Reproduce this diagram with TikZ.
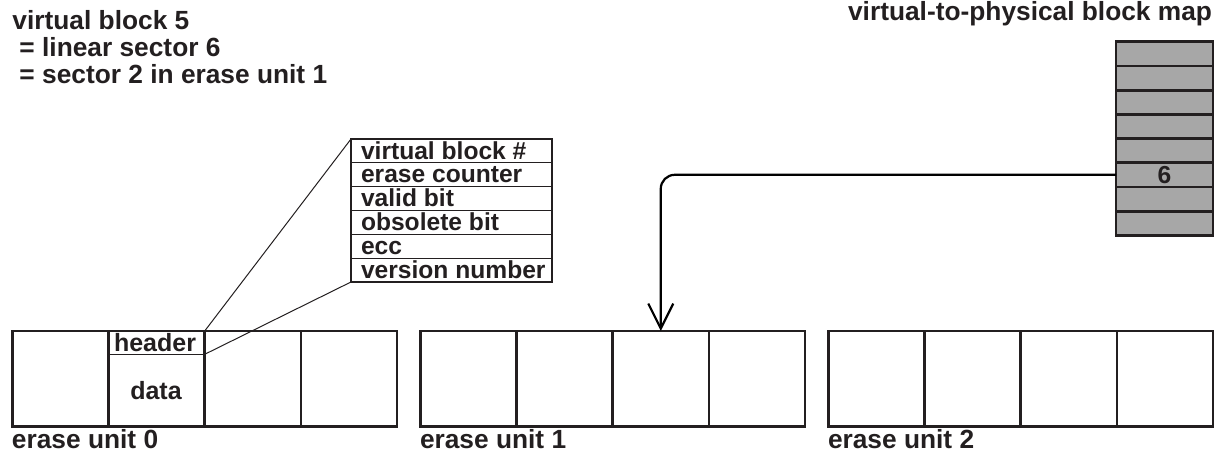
\documentclass[tikz,border=0pt]{standalone}
\usepackage{fontspec}
\setmainfont{Liberation Sans}
\usetikzlibrary{arrows.meta}
\definecolor{ink}{HTML}{231F20}
\definecolor{mapgray}{HTML}{A7A7A7}
\begin{document}
\begin{tikzpicture}[x=1pt,y=-1pt,
  bigtext/.style={font=\fontsize{26.3}{30}\selectfont\bfseries, inner sep=0, outer sep=0, text=ink},
  celltext/.style={font=\fontsize{25}{29}\selectfont\bfseries, inner sep=0, outer sep=0, text=ink},
  fieldtext/.style={font=\fontsize{24.6}{28}\selectfont\bfseries, inner sep=0, outer sep=0, text=ink},
  cell/.style={draw=ink, line width=2.5pt, minimum width=96.1pt, minimum height=95.5pt, inner sep=0, outer sep=0, anchor=north west},
  hdrbox/.style={minimum width=96.1pt, minimum height=23.3pt, inner sep=0, outer sep=0, anchor=north west},
  fieldrow/.style={draw=ink, line width=1.2pt, minimum width=201pt, minimum height=23.83pt, inner sep=0, outer sep=0, anchor=north west},
  maprow/.style={draw=ink, fill=mapgray, line width=2.8pt, minimum width=97pt, minimum height=24.2pt, inner sep=0, outer sep=0, anchor=north west},
  thinline/.style={draw=ink, line width=1pt},
  maparrow/.style={draw=black, line width=2.2pt, rounded corners=14pt, -{Straight Barb[length=25pt,width=25pt,line width=2.2pt]}}
]
\useasboundingbox (0,0) rectangle (1217,455);

% titles
\node[bigtext, anchor=base west] (t1) at (12.5,29.3) {virtual block 5};
\node[bigtext, anchor=base west] (t2) at (19.5,56.7) {= linear sector 6};
\node[bigtext, anchor=base west] (t3) at (19.5,83.5) {= sector 2 in erase unit 1};
\node[bigtext, anchor=base east] (tmap) at (1212,20.5) {virtual-to-physical block map};

% erase units
\foreach \u/\x in {0/12.5,1/420.5,2/828.5}{
  \foreach \c in {1,...,4}{
    \node[cell] (u\u c\c) at ({\x+(\c-1)*96.1},331) {};
  }
  \node[bigtext, anchor=base west] (lab\u) at (\x-0.5,448) {erase unit \u};
}

% header / data in unit 0, sector 2
\node[hdrbox] (hdr) at (108.6,331) {};
\draw[thinline] (hdr.south west) -- (hdr.south east);
\node[celltext, anchor=base] (htxt) at (155,351.7) {header};
\node[celltext, anchor=base] (dtxt) at (156,399) {data};

% header fields box
\foreach \i/\t in {1/virtual block \#,2/erase counter,3/valid bit,4/obsolete bit,5/ecc,6/version number}{
  \node[fieldrow] (f\i) at (351,{139+(\i-1)*23.83}) {};
  \node[fieldtext, anchor=base west] (f\i t) at ([xshift=10pt,yshift=3.8pt]f\i.south west) {\t};
}
\draw[ink, line width=2.5pt] (f1.north west) rectangle (f6.south east);

% zoom connectors
\draw[thinline] (hdr.north east) -- (f1.north west);
\draw[thinline] (hdr.south east) -- (f6.south west);

% virtual-to-physical map
\foreach \i in {1,...,8}{
  \node[maprow] (m\i) at (1116,{41.7+(\i-1)*24.2}) {};
}
\node[fieldtext] (six) at (m6.center) {6};

% mapping arrow
\draw[maparrow] (m6.west) -| (u1c3.north);
\end{tikzpicture}
\end{document}
